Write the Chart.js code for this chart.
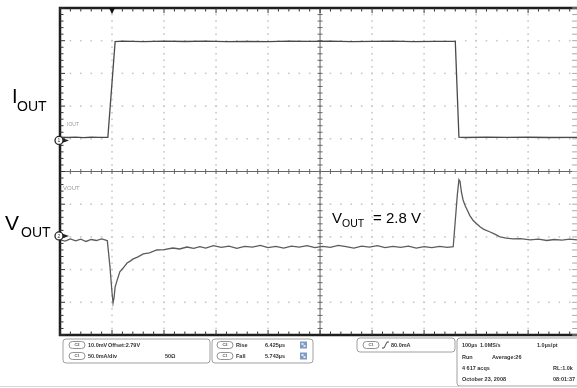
<!DOCTYPE html>
<html>
<head>
<meta charset="utf-8">
<script src="https://cdn.jsdelivr.net/npm/chart.js@4.4.1/dist/chart.umd.min.js"></script>
<style>
  html, body { margin: 0; padding: 0; background: #fff; }
  #wrap { width: 577px; height: 388px; }
</style>
</head>
<body>
<div id="wrap"><canvas id="scope" width="577" height="388"></canvas></div>
<script>
// time in µs from left edge of the screen (100 µs/div)
const iTime = [0, 15, 30, 45, 60, 75, 88, 92,
  106, 120, 160, 200, 240, 280, 320, 360, 400, 440, 480, 520, 560, 600, 640, 680, 720, 758,
  760, 767, 780, 820, 860, 900, 940, 994];
// I_OUT in mA (50 mA/div)
const iOutMa = [2.5, 2.0, 2.6, 1.9, 2.4, 2.1, 2.3, 2.2,
  148.5, 149.2, 148.6, 149.3, 148.8, 149.4, 148.7, 149.1, 148.6, 149.3, 148.9, 149.2, 148.6, 149.0, 149.4, 148.7, 149.1, 148.9,
  148.8, 2.4, 2.0, 2.5, 2.1, 2.4, 2.0, 2.3];

const vTime = [0, 10, 20, 30, 40, 50, 60, 70, 80, 88, 91, 96, 100, 102, 104, 106, 110, 115, 121, 129, 135, 140, 150, 160, 172, 186, 200, 217, 230, 244, 257, 269,
  280, 295, 310, 325, 340, 355, 370, 385, 400, 415, 430, 445, 460, 475, 490, 505, 520, 535, 550, 565, 580, 595, 610, 625, 640, 655, 670, 685, 700, 715, 730, 745, 756,
  760, 764, 767, 769, 772, 775, 779, 783, 788, 794, 800, 808, 815, 827, 835, 846, 858, 871, 885, 904, 920, 936, 950, 965, 980, 994];
// V_OUT in mV relative to the 2.79 V offset (10 mV/div)
const vOutMv = [-0.9, -1.3, -0.6, -1.2, -0.7, -1.4, -0.8, -1.1, -0.6, -1.0, -1.2, -9.0, -17.0, -20.2, -18.5, -15.3, -13.2, -10.7, -9.6, -8.0, -7.4, -6.8, -6.1, -5.2, -4.9, -4.0, -3.9, -3.4, -3.7, -3.1, -3.5, -3.0,
  -3.4, -2.7, -3.2, -2.8, -3.5, -2.9, -3.1, -2.6, -3.3, -2.9, -3.4, -2.8, -3.1, -2.7, -3.3, -2.9, -3.2, -2.6, -3.0, -3.4, -2.8, -3.1, -2.7, -3.3, -2.9, -3.2, -2.8, -3.4, -3.0, -3.3, -2.9, -3.2, -3.0,
  5.0, 13.0, 17.5, 17.0, 13.5, 11.3, 9.5, 8.2, 6.5, 5.1, 4.2, 3.0, 2.3, 1.5, 0.9, 0.0, -0.4, -0.6, -0.5, -0.9, -0.7, -1.1, -0.8, -1.0, -0.7, -0.9];

// screen is in divisions: channel ground markers
const iZeroDiv = 6, iMaPerDiv = 50;
const vZeroDiv = 3, vMvPerDiv = 10;

const iPoints = iTime.map((t, k) => ({ x: t, y: iZeroDiv + iOutMa[k] / iMaPerDiv }));
const vPoints = vTime.map((t, k) => ({ x: t, y: vZeroDiv + vOutMv[k] / vMvPerDiv }));

function rrect(ctx, x, y, w, h, r) {
  ctx.beginPath();
  ctx.moveTo(x + r, y);
  ctx.lineTo(x + w - r, y);
  ctx.arcTo(x + w, y, x + w, y + r, r);
  ctx.lineTo(x + w, y + h - r);
  ctx.arcTo(x + w, y + h, x + w - r, y + h, r);
  ctx.lineTo(x + r, y + h);
  ctx.arcTo(x, y + h, x, y + h - r, r);
  ctx.lineTo(x, y + r);
  ctx.arcTo(x, y, x + r, y, r);
  ctx.closePath();
}

function chanButton(ctx, x, y, label) {
  rrect(ctx, x, y - 3.5, 16, 7, 3.5);
  ctx.strokeStyle = '#777';
  ctx.lineWidth = 0.8;
  ctx.stroke();
  ctx.fillStyle = '#555';
  ctx.font = 'bold 4px Arial';
  ctx.textAlign = 'center';
  ctx.fillText(label, x + 8, y);
  ctx.textAlign = 'left';
}

const scopeScreen = {
  id: 'scopeScreen',
  beforeDraw(chart) {
    const ctx = chart.ctx;
    ctx.save();
    ctx.fillStyle = '#fff';
    ctx.fillRect(0, 0, chart.width, chart.height);
    ctx.restore();
  },
  beforeDatasetsDraw(chart) {
    const ctx = chart.ctx, xs = chart.scales.x, ys = chart.scales.y;
    const a = chart.chartArea;
    ctx.save();
    // dotted graticule
    ctx.fillStyle = '#c8c8c8';
    for (let k = 1; k <= 9; k++) {
      if (k === 5) continue;
      const gx = xs.getPixelForValue(k * 100);
      for (let m = 0; m <= 50; m++) {
        const gy = ys.getPixelForValue(m * 0.2);
        ctx.fillRect(gx - 0.8, gy - 0.8, 1.6, 1.6);
      }
      const gy = ys.getPixelForValue(k);
      for (let m = 0; m <= 50; m++) {
        const gx2 = xs.getPixelForValue(m * 20);
        ctx.fillRect(gx2 - 0.8, gy - 0.8, 1.6, 1.6);
      }
    }
    // center cross with minor ticks
    const cx = xs.getPixelForValue(500), cy = ys.getPixelForValue(5);
    ctx.strokeStyle = '#666';
    ctx.lineWidth = 1;
    ctx.beginPath();
    ctx.moveTo(a.left, cy); ctx.lineTo(a.right, cy);
    ctx.moveTo(cx, a.top); ctx.lineTo(cx, a.bottom);
    for (let m = 0; m <= 50; m++) {
      const tx = xs.getPixelForValue(m * 20);
      ctx.moveTo(tx, cy - 2.5); ctx.lineTo(tx, cy + 2.5);
      const ty = ys.getPixelForValue(m * 0.2);
      ctx.moveTo(cx - 2.5, ty); ctx.lineTo(cx + 2.5, ty);
    }
    ctx.stroke();
    ctx.restore();
  },
  afterDatasetsDraw(chart) {
    const ctx = chart.ctx, xs = chart.scales.x, ys = chart.scales.y;
    const a = chart.chartArea;
    ctx.save();
    // frame: left, top, bottom (right side is cropped)
    ctx.strokeStyle = '#1e1e1e';
    ctx.lineWidth = 2.5;
    ctx.beginPath();
    ctx.moveTo(a.right + 5, a.top); ctx.lineTo(a.left, a.top);
    ctx.lineTo(a.left, a.bottom); ctx.lineTo(a.right + 5, a.bottom);
    ctx.stroke();
    ctx.lineWidth = 1;
    ctx.strokeStyle = '#333';
    ctx.beginPath();
    for (let m = 0; m <= 50; m++) {
      const tx = xs.getPixelForValue(m * 20);
      const len = m % 5 === 0 ? 5 : 3.5;
      ctx.moveTo(tx, a.top); ctx.lineTo(tx, a.top + len);
      ctx.moveTo(tx, a.bottom); ctx.lineTo(tx, a.bottom - len);
      const ty = ys.getPixelForValue(m * 0.2);
      ctx.moveTo(a.left, ty); ctx.lineTo(a.left + (m % 5 === 0 ? 5 : 3.5), ty);
    }
    ctx.stroke();
    // right frame ticks peeking in from the cropped edge
    ctx.strokeStyle = '#aaa';
    const rx = xs.getPixelForValue(1000);
    ctx.beginPath();
    for (let m = 0; m <= 50; m++) {
      const ty = ys.getPixelForValue(m * 0.2);
      ctx.moveTo(rx - 8, ty); ctx.lineTo(rx, ty);
    }
    ctx.stroke();

    // trigger position marker
    const tpx = xs.getPixelForValue(100);
    ctx.fillStyle = '#111';
    ctx.beginPath();
    ctx.moveTo(tpx - 3, a.top); ctx.lineTo(tpx + 3, a.top); ctx.lineTo(tpx, a.top + 6);
    ctx.closePath(); ctx.fill();

    // channel ground markers
    [[iZeroDiv - 0.05, '1'], [vZeroDiv + 0.03, '2']].forEach(([d, n]) => {
      const my = ys.getPixelForValue(d);
      ctx.fillStyle = '#222';
      ctx.beginPath();
      ctx.moveTo(a.left + 2, my - 2.5); ctx.lineTo(a.left + 9, my); ctx.lineTo(a.left + 2, my + 2.5);
      ctx.closePath(); ctx.fill();
      ctx.beginPath();
      ctx.arc(a.left - 1, my, 4, 0, Math.PI * 2);
      ctx.fillStyle = '#fff'; ctx.fill();
      ctx.lineWidth = 1.3; ctx.strokeStyle = '#222'; ctx.stroke();
      ctx.fillStyle = '#333';
      ctx.font = '5px Arial';
      ctx.textAlign = 'center'; ctx.textBaseline = 'middle';
      ctx.fillText(n, a.left - 1, my + 0.3);
    });
    ctx.textAlign = 'left';
    ctx.textBaseline = 'alphabetic';

    // small trace names
    ctx.fillStyle = '#999';
    ctx.font = '5px Arial';
    ctx.fillText('IOUT', 67, 126);
    ctx.font = '6px Arial';
    ctx.fillText('VOUT', 63, 190);

    // annotations
    ctx.fillStyle = '#000';
    ctx.font = '20px Arial';
    ctx.fillText('I', 12, 103);
    ctx.font = '14px Arial';
    ctx.fillText('OUT', 17, 111);
    ctx.font = '21px Arial';
    ctx.fillText('V', 5, 230);
    ctx.font = '14px Arial';
    ctx.fillText('OUT', 21, 237);
    ctx.font = '15px Arial';
    ctx.fillText('V', 332, 223);
    ctx.font = '10.5px Arial';
    ctx.fillText('OUT', 342, 227);
    ctx.font = '15px Arial';
    ctx.fillText('= 2.8 V', 373, 223);

    // info panels
    ctx.lineWidth = 0.8;
    ctx.strokeStyle = '#888';
    rrect(ctx, 63, 339, 147, 24, 3); ctx.stroke();
    rrect(ctx, 212, 339, 101, 24, 3); ctx.stroke();
    rrect(ctx, 357, 338, 98, 14, 3); ctx.stroke();
    rrect(ctx, 457, 338, 126, 48, 3); ctx.stroke();
    ctx.textBaseline = 'middle';
    chanButton(ctx, 69, 345, 'C2');
    chanButton(ctx, 69, 356, 'C1');
    chanButton(ctx, 217, 345, 'C2');
    chanButton(ctx, 217, 356, 'C1');
    chanButton(ctx, 363, 345, 'C1');
    ctx.fillStyle = '#333';
    ctx.font = 'bold 5.5px Arial';
    ctx.fillText('10.0mV', 88, 345);
    ctx.fillText('Offset:2.79V', 108, 345);
    ctx.fillText('50.0mA/div', 88, 356);
    ctx.fillText('50\u03A9', 165, 356);
    ctx.fillText('Rise', 236, 345);
    ctx.fillText('6.425\u00B5s', 265, 345);
    ctx.fillText('Fall', 236, 356);
    ctx.fillText('5.743\u00B5s', 265, 356);
    ctx.fillText('80.0mA', 391, 345);
    ctx.fillText('100\u00B5s', 462, 345);
    ctx.fillText('1.0MS/s', 480, 345);
    ctx.fillText('1.0\u00B5s/pt', 537, 345);
    ctx.fillText('Run', 462, 357);
    ctx.fillText('Average:26', 492, 357);
    ctx.fillText('4 617 acqs', 462, 368);
    ctx.fillText('RL:1.0k', 553, 368);
    ctx.fillText('October 23, 2008', 462, 379);
    ctx.fillText('08:01:37', 553, 379);
    // edge slope icon
    ctx.strokeStyle = '#333'; ctx.lineWidth = 0.9;
    ctx.beginPath();
    ctx.moveTo(382, 348); ctx.lineTo(384, 348); ctx.lineTo(387, 342); ctx.lineTo(389, 342);
    ctx.stroke();
    // measurement status icons
    [345, 356].forEach(iy => {
      ctx.fillStyle = '#7d9cc4';
      ctx.fillRect(300, iy - 3.5, 7, 7);
      ctx.fillStyle = '#dfe8f3';
      ctx.fillRect(301.5, iy - 2, 2, 2);
      ctx.fillRect(303.5, iy, 2, 2);
    });
    // bottom rule
    ctx.strokeStyle = '#d6d6d6'; ctx.lineWidth = 1;
    ctx.beginPath(); ctx.moveTo(0, 386.5); ctx.lineTo(577, 386.5); ctx.stroke();
    ctx.restore();
  }
};

new Chart(document.getElementById('scope'), {
  type: 'line',
  data: {
    datasets: [
      { label: 'VOUT', data: vPoints, borderColor: '#5c5c5c', borderWidth: 1.3, pointRadius: 0, tension: 0 },
      { label: 'IOUT', data: iPoints, borderColor: '#4a4a4a', borderWidth: 1.3, pointRadius: 0, tension: 0 }
    ]
  },
  options: {
    responsive: false,
    animation: false,
    devicePixelRatio: 1,
    layout: { padding: { left: 60, top: 8, right: 0, bottom: 53 } },
    scales: {
      x: { type: 'linear', min: 0, max: 994, display: false },
      y: { type: 'linear', min: 0, max: 10, display: false }
    },
    plugins: { legend: { display: false }, tooltip: { enabled: false } }
  },
  plugins: [scopeScreen]
});
</script>
</body>
</html>
